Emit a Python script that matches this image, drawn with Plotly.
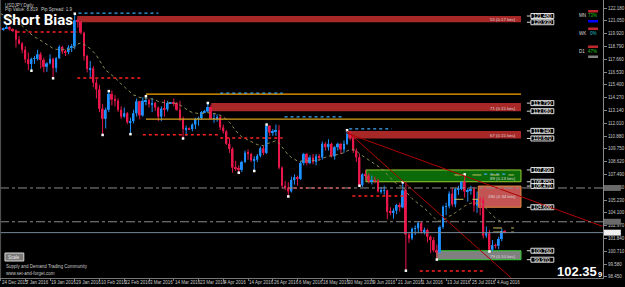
import plotly.graph_objects as go
import pandas as pd

# ---------------- data ----------------
bar_dates = pd.bdate_range("2015-12-24", "2016-08-09")
bar_dates = bar_dates.drop(pd.to_datetime(["2015-12-25", "2016-01-01"]))
bar_dates = bar_dates.append(pd.to_datetime(["2016-03-13", "2016-03-20"])).sort_values()

opens = [120.42,120.30,120.40,120.50,120.30,120.20,119.40,119.05,118.50,117.65,
         117.25,117.70,117.70,118.10,117.60,117.00,117.30,117.70,116.90,117.75,
         118.75,118.35,118.30,118.70,118.80,121.10,120.95,120.00,117.95,116.80,
         116.85,115.60,115.00,113.30,112.40,113.20,114.60,114.10,114.00,113.20,
         112.60,112.90,112.10,112.20,112.90,113.95,112.70,113.95,114.05,113.70,
         113.80,113.40,112.60,113.30,113.25,113.80,113.84,113.80,113.20,112.40,
         111.50,111.55,111.50,111.90,112.40,112.45,113.00,113.05,113.45,112.40,
         112.45,112.55,111.65,111.30,110.20,109.75,108.10,108.05,107.90,108.60,
         109.40,109.30,108.75,108.80,109.15,109.80,109.40,111.80,111.20,111.25,
         111.40,108.10,106.50,106.30,106.00,107.00,107.25,107.10,108.50,109.30,
         108.50,109.00,108.60,109.10,109.00,110.20,109.90,110.20,109.10,109.90,
         110.20,109.70,110.20,111.10,110.70,109.60,109.00,106.55,107.50,107.40,
         106.90,107.00,106.95,106.00,106.05,106.10,104.20,104.15,104.30,104.80,
         104.60,106.10,102.20,101.85,102.70,102.75,103.20,102.50,102.60,102.00,
         101.70,100.80,100.60,102.85,104.65,104.70,105.80,104.85,106.20,106.20,
         106.85,106.00,106.10,106.20,104.75,105.30,105.25,102.10,102.30,100.85,
         101.25,101.20,101.80,102.50]
highs = [120.55,120.45,120.68,120.58,120.40,120.30,119.70,119.20,118.80,118.25,
         117.80,117.95,118.50,118.30,117.80,117.40,118.10,117.80,117.85,118.90,
         118.85,118.50,118.90,119.00,121.68,121.25,121.05,120.10,118.05,117.50,
         117.05,115.90,115.40,113.70,113.40,114.85,114.90,114.50,114.20,113.50,
         113.40,113.00,112.50,113.20,114.20,114.00,114.30,114.40,114.20,114.25,
         113.90,113.50,113.50,114.10,114.00,113.88,114.20,113.90,114.00,112.60,
         111.80,111.65,112.00,112.50,112.60,113.10,113.20,113.80,113.60,112.90,
         112.80,112.70,111.90,111.40,110.70,109.90,108.70,108.30,108.70,109.60,
         109.70,109.40,109.10,109.30,109.95,110.00,111.90,111.85,111.50,111.90,
         111.85,108.20,106.90,106.80,107.30,107.50,107.40,108.70,109.40,109.40,
         109.20,109.30,109.30,109.30,110.40,110.35,110.60,110.30,110.00,110.30,
         110.25,110.50,111.40,111.35,110.90,109.80,109.30,107.60,107.90,107.60,
         107.40,107.30,107.10,106.40,106.50,106.15,104.60,104.50,104.90,105.00,
         106.80,106.80,102.40,102.80,103.00,103.30,103.35,102.80,102.70,102.10,
         101.95,101.30,103.00,104.75,105.00,106.00,106.30,106.30,106.50,106.90,
         107.50,106.30,106.50,106.40,106.00,105.45,105.50,102.90,102.60,101.70,
         101.40,102.00,102.70,102.60]
lows = [120.20,120.18,120.35,120.20,120.05,118.70,118.95,118.20,117.35,116.70,
        116.65,117.25,117.55,116.85,116.50,116.55,117.20,115.98,116.50,117.70,
        118.15,117.95,118.10,118.30,118.55,120.45,119.85,117.55,116.50,116.05,
        115.20,114.20,113.00,110.98,111.55,113.00,113.60,113.50,113.00,112.40,
        112.50,111.95,111.05,112.00,112.60,112.35,112.60,113.60,113.40,113.00,
        113.10,112.20,112.20,112.60,113.05,113.72,113.50,113.10,112.20,110.67,
        110.90,111.45,111.30,111.50,111.80,112.30,112.90,113.00,112.40,112.05,
        112.15,111.40,111.10,110.10,109.40,107.65,107.80,107.65,107.70,108.50,
        108.80,108.60,107.80,108.60,109.00,109.20,109.30,110.90,110.90,110.90,
        107.95,106.25,106.10,105.55,105.90,106.60,106.50,107.00,108.30,108.30,
        108.40,108.40,108.30,108.70,108.80,109.60,109.60,109.00,108.80,109.60,
        109.30,109.40,110.10,110.50,109.40,108.60,106.50,106.40,107.00,106.70,
        106.60,106.70,105.90,105.80,105.70,103.55,103.90,103.60,104.00,104.20,
        104.50,99.00,101.45,101.70,102.15,102.30,102.25,102.20,101.50,100.55,
        100.65,99.98,100.55,102.70,103.90,104.50,104.65,104.60,105.70,106.10,
        105.45,105.10,105.70,104.20,104.10,103.90,101.85,101.90,100.70,100.70,
        100.95,100.90,101.60,102.30]
closes = [120.30,120.40,120.50,120.30,120.20,119.40,119.05,118.50,117.65,117.25,
          117.70,117.70,118.10,117.60,117.00,117.30,117.70,116.90,117.75,118.75,
          118.35,118.30,118.70,118.80,121.10,120.95,120.00,117.95,116.80,116.85,
          115.60,115.00,113.30,112.40,113.20,114.60,114.10,114.00,113.20,112.60,
          112.90,112.10,112.20,112.90,113.95,112.70,114.00,114.05,113.70,113.80,
          113.40,112.60,113.30,113.25,113.80,113.84,113.80,113.20,112.40,111.50,
          111.55,111.50,111.90,112.40,112.45,113.00,113.05,113.45,112.40,112.45,
          112.55,111.65,111.30,110.20,109.75,108.10,108.05,107.90,108.60,109.40,
          109.30,108.75,108.80,109.15,109.80,109.40,111.80,111.20,111.25,111.40,
          108.10,106.50,106.30,106.00,107.00,107.25,107.10,108.50,109.30,108.50,
          109.00,108.60,109.10,109.00,110.20,109.90,110.20,109.10,109.90,110.20,
          109.70,110.20,111.10,110.70,109.60,109.00,106.55,107.50,107.40,106.90,
          107.00,106.95,106.00,106.05,106.10,104.20,104.15,104.30,104.80,104.60,
          106.10,102.20,101.85,102.70,102.75,103.20,102.50,102.60,102.00,101.70,
          100.80,100.60,102.85,104.65,104.70,105.80,104.85,106.20,106.20,106.85,
          106.00,106.10,106.20,104.75,105.30,105.25,102.10,102.30,100.85,101.25,
          101.20,101.80,102.50,102.35]
# closes before the visible window (for the D1 20 EMA)
warmup_closes = [123.0,123.0,122.8,122.9,122.6,122.6,122.8,123.1,123.2,123.2,122.6,123.2,
                 123.3,123.0,121.5,121.6,120.9,120.6,121.7,122.2,122.6,121.2,121.2,121.1,121.0,120.9]

tick_idx = [0,8,16,24,32,40,48,56,64,72,80,88,96,104,112,120,128,136,144,152,160]
tick_text = ["24 Dec 2015","7 Jan 2016","19 Jan 2016","29 Jan 2016","10 Feb 2016","22 Feb 2016",
             "3 Mar 2016","14 Mar 2016","23 Mar 2016","4 Apr 2016","14 Apr 2016","26 Apr 2016",
             "6 May 2016","18 May 2016","30 May 2016","9 Jun 2016","21 Jun 2016","1 Jul 2016",
             "13 Jul 2016","25 Jul 2016","4 Aug 2016"]
price_ticks = [122.18,121.05,119.92,118.79,117.66,116.53,115.40,114.27,113.14,112.01,110.88,
               109.75,108.62,107.49,106.36,105.23,104.10,102.97,101.84,100.71,99.58,98.45]

zone_tops = [121.48, 113.79, 111.34, 107.89, 106.47, 100.76]
zone_bottoms = [120.93, 113.08, 110.67, 106.85, 104.60, 99.97]
zone_starts = [24.8, 68.1, 112.1, 118.1, 154.4, 140.9]
zone_notes = ["55 (0.17 lots)", "71 (0.15 lots)", "67 (0.15 lots)", "89 (0.13 lots)",
              "180 (0.34 lots)", "79 (0.10 lots)"]
ZONE_END = 168.2

orange_levels = [114.58, 112.38]
orange_start = 47.0
red_dotted = [(120.07, 5.2, 24.8), (116.01, 24.8, 45.4), (111.00, 46.0, 70.4), (110.71, 71.0, 91.2),
              (106.30, 92.8, 113.7), (105.59, 113.7, 130.6), (98.97, 135.5, 156.3)]
blue_dotted = [(121.74, 25.2, 51.0), (114.68, 71.0, 91.2), (112.57, 91.8, 111.0), (111.51, 112.7, 126.4),
               (107.53, 156.3, 163.4)]
yellow_dashed = [(107.45, 146.7, 165.9), (105.30, 146.7, 154.4), (102.77, 159.2, 165.9), (102.41, 159.2, 165.9)]
trend_lines = [((111.9, 111.33), (165.0, 98.37)), ((111.9, 111.14), (194.5, 102.92))]
fractal_low_idx = [10, 17, 33, 42, 59, 77, 82, 93, 116, 131, 141, 158]
fractal_high_idx = [24, 35, 47, 67, 86, 112, 130, 150]

W1_EMA = 106.30
D1_EMA = 103.32
BID = 102.359

# ---------------- figure ----------------
BULL = "#1E90FF"
BEAR = "#E8174A"
XR = [-0.16, 194.7]
YR = [98.355, 122.892]
W_PLOT, H_PLOT = 608, 278

def P(px, py):
    return px / W_PLOT, 1 - py / H_PLOT

assert len(bar_dates) == len(opens) == len(highs) == len(lows) == len(closes) == 164

idx = list(range(len(closes)))
fig = go.Figure()

# candles: wicks + bodies
for color, flag in ((BULL, True), (BEAR, False)):
    xs = [i for i in idx if (closes[i] >= opens[i]) == flag]
    wx, wy = [], []
    for i in xs:
        wx += [i, i, None]
        wy += [lows[i], highs[i], None]
    fig.add_trace(go.Scatter(x=wx, y=wy, mode="lines", line=dict(color=color, width=1), hoverinfo="skip"))
    fig.add_trace(go.Bar(x=xs, y=[max(abs(closes[i] - opens[i]), 0.04) for i in xs],
                         base=[min(opens[i], closes[i]) for i in xs], width=0.62,
                         marker=dict(color=color, line=dict(width=0))))

# D1 20 EMA (dotted)
ema = pd.Series(warmup_closes + closes).ewm(span=20, adjust=False).mean().tolist()[len(warmup_closes):]
fig.add_trace(go.Scatter(x=idx, y=ema, mode="lines", line=dict(color="#8E8C55", width=1, dash="dot")))

# fractal marks
fig.add_trace(go.Scatter(x=fractal_low_idx, y=[lows[i] for i in fractal_low_idx], mode="markers",
                         marker=dict(color="white", size=2.5, symbol="square")))
fig.add_trace(go.Scatter(x=fractal_high_idx, y=[highs[i] for i in fractal_high_idx], mode="markers",
                         marker=dict(color="white", size=2.5, symbol="square")))

shapes = []
ann = []

def text(x, y, s, size=4.5, color="#C8C8C8", xanchor="left", yanchor="middle", xref="paper", yref="paper", **kw):
    ann.append(dict(x=x, y=y, xref=xref, yref=yref, text=s, showarrow=False, xanchor=xanchor,
                    yanchor=yanchor, borderpad=0,
                    font=dict(size=size, color=color, family="Liberation Sans"), **kw))

# zones
zone_fill = ["#A82828", "#A82828", "#A82828", "#0B6B0B", "#C25454", "#808080"]
zone_line = [None, None, None, "#9ACD32", "#E0893A", "#32CD32"]
for k in range(len(zone_tops)):
    ln = dict(width=0) if zone_line[k] is None else dict(color=zone_line[k], width=1)
    shapes.append(dict(type="rect", xref="x", yref="y", x0=zone_starts[k], x1=ZONE_END,
                       y0=zone_bottoms[k], y1=zone_tops[k], fillcolor=zone_fill[k], line=ln, layer="below"))
    ny = (zone_tops[k] + zone_bottoms[k]) / 2 if k == 4 else zone_bottoms[k] + 0.25
    text(ZONE_END - 1.3, ny, zone_notes[k], size=4.3, color="#DDDDDD", xanchor="right", xref="x", yref="y")
    for lvl in (zone_tops[k], zone_bottoms[k]):
        shapes.append(dict(type="line", xref="x", yref="y", x0=ZONE_END + 1.9, x1=ZONE_END + 3.2,
                           y0=lvl, y1=lvl, line=dict(color="#DDDDDD", width=1)))
        shapes.append(dict(type="rect", xref="x", yref="y", x0=ZONE_END + 3.2, x1=ZONE_END + 10.6,
                           y0=lvl - 0.22, y1=lvl + 0.22, fillcolor="black", line=dict(color="#E0E0E0", width=1)))
        text(ZONE_END + 6.9, lvl, f"{lvl:.3f}", size=5.2, color="white", xanchor="center", xref="x", yref="y")

# orange lines
for lvl, col in zip(orange_levels, ["#FFA500", "#D9A21B"]):
    shapes.append(dict(type="line", xref="x", yref="y", x0=orange_start, x1=ZONE_END, y0=lvl, y1=lvl,
                       line=dict(color=col, width=1.3)))
for lvl, a, b in red_dotted:
    shapes.append(dict(type="line", xref="x", yref="y", x0=a, x1=b, y0=lvl, y1=lvl,
                       line=dict(color="#FF2020", width=1.5, dash="dot")))
for lvl, a, b in blue_dotted:
    shapes.append(dict(type="line", xref="x", yref="y", x0=a, x1=b, y0=lvl, y1=lvl,
                       line=dict(color="#3FA9F5", width=1.3, dash="dot")))
for lvl, a, b in yellow_dashed:
    shapes.append(dict(type="line", xref="x", yref="y", x0=a, x1=b, y0=lvl, y1=lvl,
                       line=dict(color="#C8C060", width=1, dash="dash")))
for (x0, y0), (x1, y1) in trend_lines:
    shapes.append(dict(type="line", xref="x", yref="y", x0=x0, x1=x1, y0=y0, y1=y1,
                       line=dict(color="#B00000", width=1)))

# EMA levels and bid line
for lvl, lab in ((W1_EMA, "W1 20 EMA"), (D1_EMA, "D1 20 EMA")):
    shapes.append(dict(type="line", xref="paper", yref="y", x0=0, x1=1, y0=lvl, y1=lvl,
                       line=dict(color="#8A8A8A", width=1, dash="dashdot")))
    text(0.003, lvl + 0.05, lab, yanchor="bottom")
shapes.append(dict(type="line", xref="paper", yref="y", x0=0, x1=1, y0=BID, y1=BID,
                   line=dict(color="#778899", width=1)))
for lvl, bg, fg in ((W1_EMA, "#6A6A6A", "#E0E0E0"), (D1_EMA, "#6A6A6A", "#E0E0E0"), (BID, "#F0F0F0", "black")):
    shapes.append(dict(type="rect", xref="paper", yref="y", x0=609 / W_PLOT, x1=626 / W_PLOT,
                       y0=lvl - 0.26, y1=lvl + 0.26, fillcolor=bg, line=dict(width=0)))
    text(611 / W_PLOT, lvl, f"{lvl:.3f}", size=4.5, color=fg)

# left border
shapes.append(dict(type="line", xref="paper", yref="paper", x0=0.001, x1=0.001, y0=0, y1=1,
                   line=dict(color="#555555", width=1)))

# date labels
for i, t in zip(tick_idx, tick_text):
    ann.append(dict(x=i, y=-4 / H_PLOT, xref="x", yref="paper", text=t, showarrow=False, xanchor="left",
                    yanchor="middle", borderpad=0,
                    font=dict(size=4.5, color="#C8C8C8", family="Liberation Sans")))

# header texts
text(*P(4, 5.5), "USDJPY,Daily")
text(*P(4, 9.5), "Pip Value: 8.819")
text(*P(40, 9.5), "Pip Spread: 1.9")
ann.append(dict(x=P(2, 20.5)[0], y=P(2, 20.5)[1], xref="paper", yref="paper", text="<b>Short Bias</b>",
                showarrow=False, xanchor="left", yanchor="middle", borderpad=0,
                font=dict(size=15, color="white", family="Roboto")))

# strength panel
panel = [("MN", 16, "73%", "#1EC81E", "#0000FF"), ("WK", 33.5, "0%", "#20C0C0", None),
         ("D1", 51.5, "47%", "#1EC81E", "#808080")]
for lab, y, pct, pcol, bar2 in panel:
    text(*P(583, y), lab, size=4.5, color="#DDDDDD")
    x0, _ = P(593, 0)
    x1, _ = P(603, 0)
    shapes.append(dict(type="rect", xref="paper", yref="paper", x0=x0, x1=x1,
                       y0=P(0, y - 3.5)[1], y1=P(0, y - 6)[1], fillcolor="#C0282D", line=dict(width=0)))
    if bar2:
        shapes.append(dict(type="rect", xref="paper", yref="paper", x0=x0, x1=x1,
                           y0=P(0, y + 6.5)[1], y1=P(0, y + 4)[1], fillcolor=bar2, line=dict(width=0)))
    text(*P(603, y), pct, size=4.5, color=pcol, xanchor="right")

# bottom-left
shapes.append(dict(type="rect", xref="paper", yref="paper", x0=P(5, 0)[0], x1=P(24, 0)[0],
                   y0=P(0, 261)[1], y1=P(0, 253)[1], fillcolor="#7A7A7A", line=dict(color="#D8D8D8", width=1)))
text(*P(14.5, 257), "Scale", size=4.5, color="#E8E8E8", xanchor="center")
text(*P(5, 266.5), "Supply and Demand Trading Community")
text(*P(5, 273), "www.set-and-forget.com")

# big price
ann.append(dict(x=P(561, 271)[0], y=P(561, 271)[1], xref="paper", yref="paper", text="<b>102.35</b>",
                showarrow=False, xanchor="left", yanchor="middle", borderpad=0,
                font=dict(size=13, color="white", family="Liberation Sans")))
ann.append(dict(x=P(602, 274)[0], y=P(602, 274)[1], xref="paper", yref="paper", text="<b>9</b>",
                showarrow=False, xanchor="left", yanchor="middle", borderpad=0,
                font=dict(size=7.5, color="white", family="Liberation Sans")))

fig.update_layout(
    width=625, height=287, margin=dict(l=0, r=17, t=0, b=9),
    paper_bgcolor="black", plot_bgcolor="black", showlegend=False, barmode="overlay",
    shapes=shapes, annotations=ann, hovermode=False,
    xaxis=dict(range=XR, showgrid=False, zeroline=False, showline=True, linecolor="#777777",
               tickvals=tick_idx, ticks="outside", ticklen=2, tickcolor="#777777", showticklabels=False),
    yaxis=dict(range=YR, side="right", showgrid=False, zeroline=False, showline=True, linecolor="#888888",
               tickvals=price_ticks, ticktext=[f"{v:.3f}" for v in price_ticks], ticks="outside",
               ticklen=3, tickcolor="#888888", tickfont=dict(size=4.5, color="#C8C8C8", family="Liberation Sans")),
)
fig.write_html("out.html")
